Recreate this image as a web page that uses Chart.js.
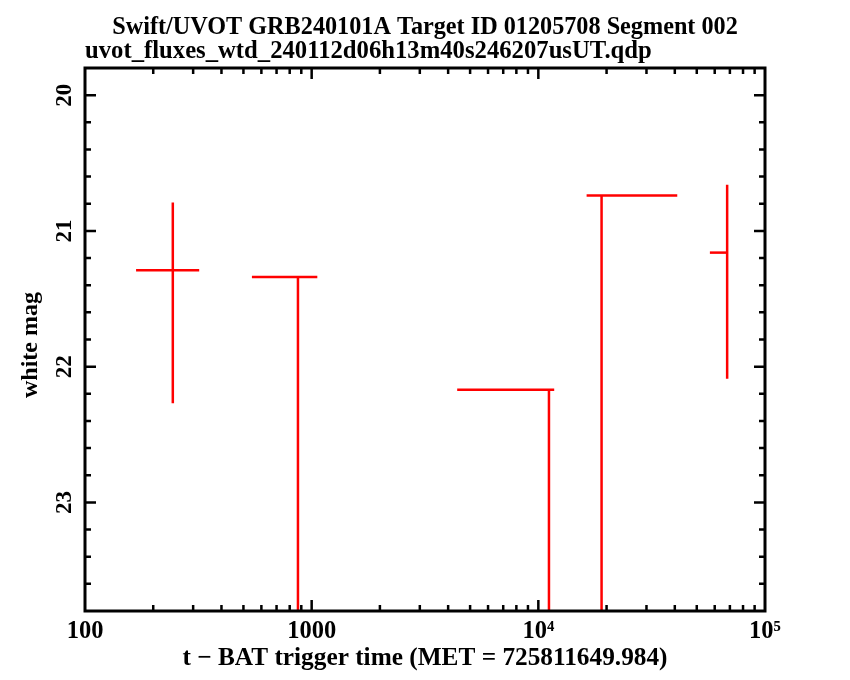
<!DOCTYPE html>
<html>
<head>
<meta charset="utf-8">
<script src="https://cdn.jsdelivr.net/npm/chart.js@4.4.1/dist/chart.umd.min.js"></script>
<style>
  html, body { margin: 0; padding: 0; background: #fff; }
</style>
</head>
<body>
<canvas id="lc" width="850" height="680"></canvas>
<script>
const titleText = "Swift/UVOT GRB240101A Target ID 01205708 Segment 002";
const fileText = "uvot_fluxes_wtd_240112d06h13m40s246207usUT.qdp";
const xTitle = "t \u2212 BAT trigger time (MET = 725811649.984)";
const yTitle = "white mag";

// one entry per exposure: time since trigger (s) and its bin edges
const tMid = [244, 870, 11140, 19010, 68080];
const tLo = [168, 545, 4385, 16330, 57130];
const tHi = [319, 1059, 11750, 41010, 68080];
// magnitude, with the bright/faint ends of the error bar
const mag = [21.29, 21.34, 22.17, 20.74, 21.16];
const magBright = [20.79, null, null, null, 20.66];
const magFaint = [22.27, null, null, null, 22.09];
const upperLimit = [false, true, true, true, false];

const xTicks = [100, 1000, 10000, 100000];
const xTickLabels = ["100", "1000", "10\u2074", "10\u2075"];
const yTicks = [20, 21, 22, 23];
const xRange = [100, 100000];
const yRange = [19.8, 23.8];

const FONT = "'Liberation Serif', 'DejaVu Serif', serif";

const datasets = [];
tMid.forEach((t, i) => {
  datasets.push({ data: [{ x: tLo[i], y: mag[i] }, { x: tHi[i], y: mag[i] }] });
  const top = upperLimit[i] ? mag[i] : magBright[i];
  const bottom = upperLimit[i] ? yRange[1] : magFaint[i];
  datasets.push({ data: [{ x: t, y: top }, { x: t, y: bottom }] });
});
datasets.forEach(d => {
  d.showLine = true;
  d.borderColor = "#ff0000";
  d.borderWidth = 2.5;
  d.pointRadius = 0;
  d.borderCapStyle = "butt";
});

function fitText(ctx, text, width, size) {
  ctx.font = "bold " + size + "px " + FONT;
  const w = ctx.measureText(text).width;
  ctx.font = "bold " + (size * width / w).toFixed(2) + "px " + FONT;
}

// frame with inward ticks on all four sides, like the qdp plots
const framePlugin = {
  id: "frame",
  afterDatasetsDraw(chart) {
    const { ctx, chartArea: a, scales } = chart;
    const x = scales.x, y = scales.y;
    ctx.save();
    ctx.strokeStyle = "#000";
    ctx.lineWidth = 2.5;
    ctx.beginPath();
    for (let d = 100; d < xRange[1]; d *= 10) {
      for (let k = 1; k <= 9; k++) {
        const v = d * k;
        if (v <= xRange[0] || v >= xRange[1]) continue;
        const px = x.getPixelForValue(v);
        const len = k === 1 ? 11 : 6;
        ctx.moveTo(px, a.bottom); ctx.lineTo(px, a.bottom - len);
        ctx.moveTo(px, a.top); ctx.lineTo(px, a.top + len);
      }
    }
    for (let i = 1; i < 20; i++) {
      const v = yRange[0] + i * 0.2;
      const py = y.getPixelForValue(v);
      const len = Math.abs(v - Math.round(v)) < 1e-6 ? 11 : 6;
      ctx.moveTo(a.left, py); ctx.lineTo(a.left + len, py);
      ctx.moveTo(a.right, py); ctx.lineTo(a.right - len, py);
    }
    ctx.stroke();
    ctx.lineWidth = 3;
    ctx.strokeRect(a.left, a.top, a.right - a.left, a.bottom - a.top);
    ctx.restore();
  }
};

// titles and the rotated y labels (Chart.js cannot rotate y tick labels)
const textPlugin = {
  id: "texts",
  afterDraw(chart) {
    const { ctx, scales } = chart;
    ctx.save();
    ctx.fillStyle = "#000";
    ctx.textBaseline = "alphabetic";
    fitText(ctx, titleText, 626, 23);
    ctx.textAlign = "center";
    ctx.fillText(titleText, 425, 34);
    fitText(ctx, fileText, 567, 23);
    ctx.textAlign = "left";
    ctx.fillText(fileText, 85, 58);

    ctx.font = "bold 23px " + FONT;
    ctx.textAlign = "center";
    ctx.textBaseline = "middle";
    yTicks.forEach(v => {
      const py = scales.y.getPixelForValue(v);
      ctx.save();
      ctx.translate(64, py);
      ctx.rotate(-Math.PI / 2);
      ctx.fillText(String(v), 0, 1);
      ctx.restore();
    });
    fitText(ctx, yTitle, 106, 22);
    ctx.save();
    ctx.translate(31, 345);
    ctx.rotate(-Math.PI / 2);
    ctx.fillText(yTitle, 0, 0);
    ctx.restore();
    ctx.restore();
  }
};

new Chart(document.getElementById("lc"), {
  type: "scatter",
  data: { datasets },
  plugins: [framePlugin, textPlugin],
  options: {
    responsive: false,
    animation: false,
    devicePixelRatio: 1,
    layout: { padding: { top: 68, right: 85, bottom: 0, left: 0 } },
    plugins: { legend: { display: false }, tooltip: { enabled: false } },
    scales: {
      x: {
        type: "logarithmic",
        position: "bottom",
        min: xRange[0],
        max: xRange[1],
        grid: { display: false, drawTicks: false },
        border: { display: false },
        afterBuildTicks: s => { s.ticks = xTicks.map(v => ({ value: v })); },
        afterFit: s => { s.height = 69; },
        ticks: {
          color: "#000",
          font: { family: FONT, size: 24.5, weight: "bold" },
          padding: 6,
          maxRotation: 0,
          autoSkip: false,
          callback: v => xTickLabels[xTicks.indexOf(v)]
        },
        title: {
          display: true,
          text: xTitle,
          color: "#000",
          font: { family: FONT, size: 25.3, weight: "bold", lineHeight: 1.1 },
          padding: { top: 0, bottom: 8 }
        }
      },
      y: {
        type: "linear",
        reverse: true,
        min: yRange[0],
        max: yRange[1],
        grid: { display: false, drawTicks: false },
        border: { display: false },
        ticks: { display: false },
        afterFit: s => { s.width = 85; }
      }
    }
  }
});
</script>
</body>
</html>
